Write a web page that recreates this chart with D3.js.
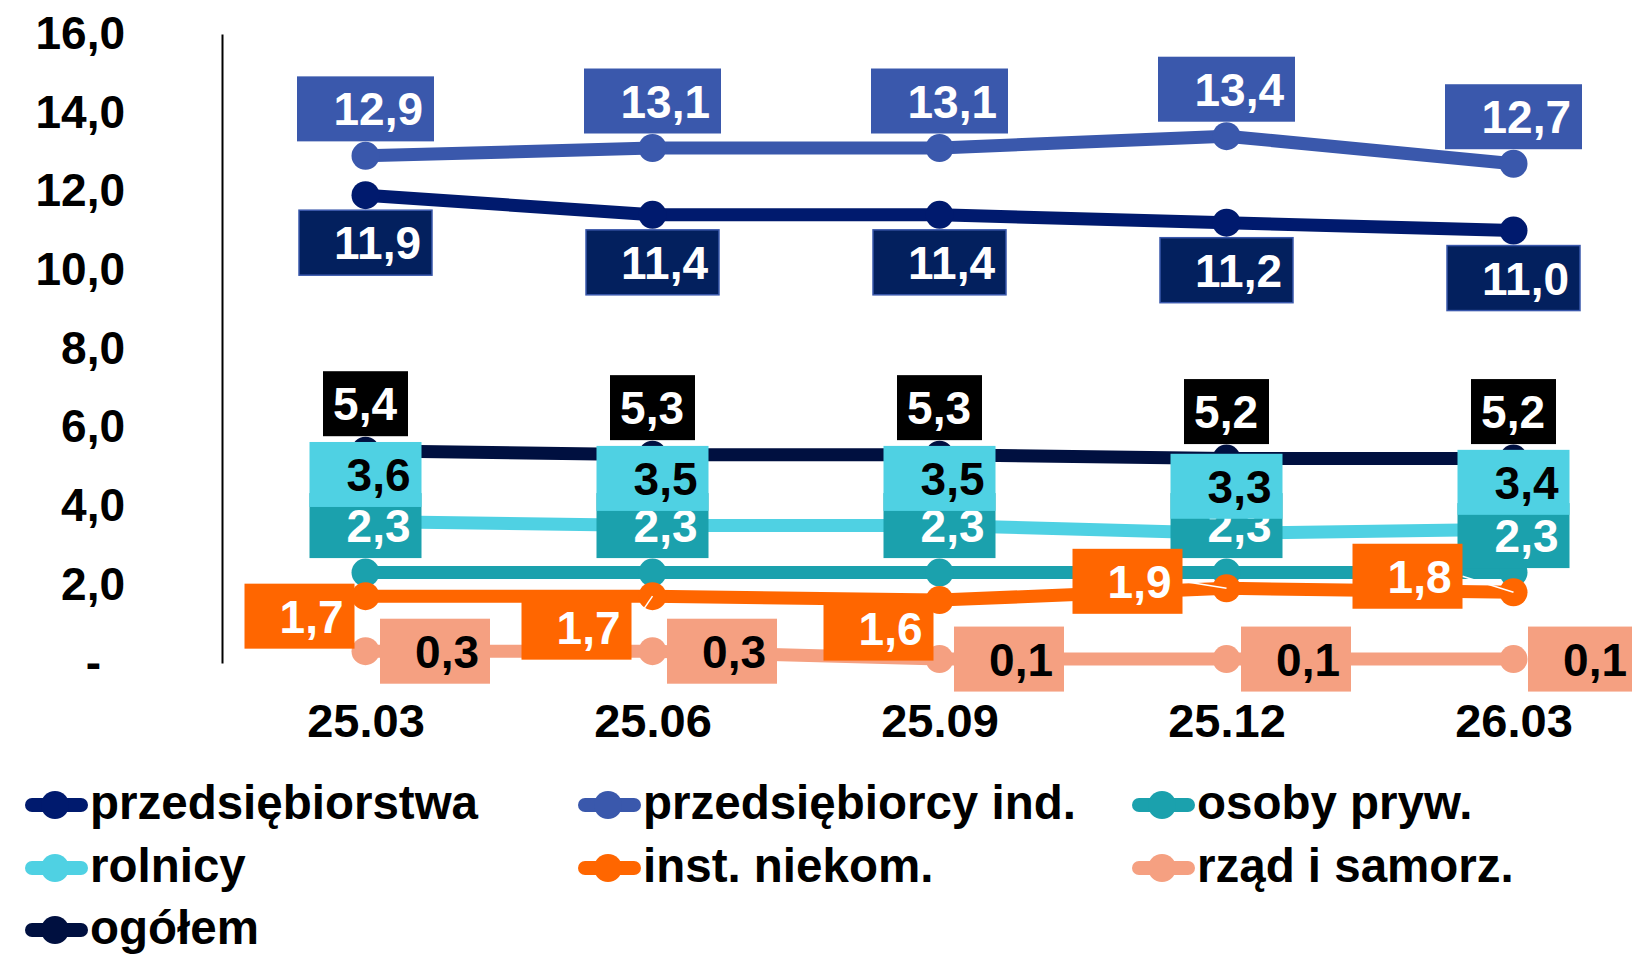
<!DOCTYPE html>
<html>
<head>
<meta charset="utf-8">
<title>Chart</title>
<script src="https://d3js.org/d3.v7.min.js"></script>
<style>
	html, body {margin: 0; background: #fff; overflow: hidden}
	text {font-family: "Liberation Sans", Arial, sans-serif; font-weight: bold}
</style>
</head>
<body>
<script>
	// data
	var categories = ["25.03", "25.06", "25.09", "25.12", "26.03"];
	var przedsiebiorstwa = [11.9, 11.4, 11.4, 11.2, 11.0];
	var przedsiebiorcyInd = [12.9, 13.1, 13.1, 13.4, 12.7];
	var osobyPryw = [2.3, 2.3, 2.3, 2.3, 2.3];
	var rolnicy = [3.6, 3.5, 3.5, 3.3, 3.4];
	var instNiekom = [1.7, 1.7, 1.6, 1.9, 1.8];
	var rzad = [0.3, 0.3, 0.1, 0.1, 0.1];
	var ogolem = [5.4, 5.3, 5.3, 5.2, 5.2];
	var yTicks = [0, 2, 4, 6, 8, 10, 12, 14, 16];

	// some labels were dragged by hand in the original, nudges in px
	var orangeLabelDx = [-11, -21, -6, -44, -51];
	var orangeLabelDy = [20, 31, 28, -7, -16];
	var tealLabelDy = [0, 0, 0, 0, 10];

	var width = 1632, height = 954;
	var fontSize = 46;

	var series = [
		{name: "przedsiębiorstwa", values: przedsiebiorstwa, color: "#001a6e", box: "#03205e", stroke: "#3a58ac", text: "#fff", pos: "below", w: 133},
		{name: "przedsiębiorcy ind.", values: przedsiebiorcyInd, color: "#3a58ac", box: "#3a58ac", text: "#fff", pos: "above", w: 137},
		{name: "osoby pryw.", values: osobyPryw, color: "#1ba1ad", box: "#1ba1ad", text: "#fff", pos: "above", w: 112, dy: tealLabelDy},
		{name: "rolnicy", values: rolnicy, color: "#4fd1e3", box: "#4fd1e3", text: "#000", pos: "above", w: 112},
		{name: "inst. niekom.", values: instNiekom, color: "#ff6600", box: "#ff6600", text: "#fff", pos: "left", w: 110},
		{name: "rząd i samorz.", values: rzad, color: "#f5a081", box: "#f5a081", text: "#000", pos: "right", w: 110},
		{name: "ogółem", values: ogolem, color: "#001040", box: "#000000", text: "#fff", pos: "above", w: 85}
	];

	var x = d3.scalePoint()
		.domain(categories)
		.range([222, 1657])
		.padding(0.5);

	var y = d3.scaleLinear()
		.domain([0, 16])
		.range([663, 34]);

	var svg = d3.select("body").append("svg")
		.attr("width", width)
		.attr("height", height);

	// y axis: plain line + labels
	var yAxis = d3.axisLeft(y)
		.tickValues(yTicks)
		.tickSize(0)
		.tickPadding(97)
		.tickFormat(function(d){
			return d === 0 ? "-" : d.toFixed(1).replace(".", ",");
		});

	var gy = svg.append("g")
		.attr("transform", "translate(222,0)")
		.call(yAxis);
	gy.select(".domain").attr("stroke", "#000").attr("stroke-width", 2);
	gy.selectAll("text")
		.attr("font-size", 46)
		.attr("fill", "#000")
		.attr("dx", function(d){ return d === 0 ? -24 : 0; });

	// x labels
	var xAxis = d3.axisBottom(x).tickSize(0).tickPadding(0);
	var gx = svg.append("g")
		.attr("transform", "translate(0,721)")
		.call(xAxis);
	gx.select(".domain").remove();
	gx.selectAll("text")
		.attr("font-size", 47)
		.attr("fill", "#000")
		.attr("dy", "0.35em");

	var line = d3.line()
		.x(function(d, i){ return x(categories[i]); })
		.y(function(d){ return y(d); });

	var lines = svg.append("g");
	series.forEach(function(s){
		var g = lines.append("g");
		g.append("path")
			.attr("d", line(s.values))
			.attr("fill", "none")
			.attr("stroke", s.color)
			.attr("stroke-width", 13)
			.attr("stroke-linejoin", "round");
		g.selectAll("circle")
			.data(s.values)
			.enter().append("circle")
			.attr("cx", function(d, i){ return x(categories[i]); })
			.attr("cy", function(d){ return y(d); })
			.attr("r", 14)
			.attr("fill", s.color);
	});

	// labels
	var boxH = 65;
	function boxPos(s, d, i){
		var px = x(categories[i]), py = y(d);
		var ny = s.dy ? s.dy[i] : 0;
		if(s.pos == "above") return [px - s.w / 2, py - 14.5 - boxH + ny];
		if(s.pos == "below") return [px - s.w / 2, py + 15];
		if(s.pos == "right") return [px + 14.5, py - boxH / 2];
		return [px + orangeLabelDx[i] - s.w, py + orangeLabelDy[i] - boxH / 2];
	}

	var labels = svg.append("g");
	series.forEach(function(s){
		var g = labels.append("g");
		s.values.forEach(function(d, i){
			var p = boxPos(s, d, i);
			// leader line only when the box was pulled away from its point
			if(s.pos == "left" && orangeLabelDx[i] < -15){
				g.append("line")
					.attr("x1", p[0] + s.w)
					.attr("y1", p[1] + boxH / 2)
					.attr("x2", x(categories[i]))
					.attr("y2", y(d))
					.attr("stroke", "#fff")
					.attr("stroke-width", 1.5);
			}
			g.append("rect")
				.attr("x", p[0])
				.attr("y", p[1])
				.attr("width", s.w)
				.attr("height", boxH)
				.attr("fill", s.box)
				.attr("stroke", s.stroke || "none")
				.attr("stroke-width", s.stroke ? 1.5 : 0);
			g.append("text")
				.attr("x", p[0] + s.w - 11)
				.attr("y", p[1] + boxH / 2)
				.attr("dy", "0.36em")
				.attr("text-anchor", "end")
				.attr("font-size", fontSize)
				.attr("fill", s.text)
				.text(d.toFixed(1).replace(".", ","));
		});
	});

	// legend
	var legendCols = [25, 578, 1132];
	var legendRows = [805, 868, 930];
	var legend = svg.append("g");
	series.forEach(function(s, i){
		var lx = legendCols[i % 3];
		var ly = legendRows[Math.floor(i / 3)];
		var g = legend.append("g").attr("transform", "translate(" + lx + "," + ly + ")");
		g.append("line")
			.attr("x1", 7).attr("x2", 56)
			.attr("y1", 0).attr("y2", 0)
			.attr("stroke", s.color)
			.attr("stroke-width", 14)
			.attr("stroke-linecap", "round");
		g.append("circle")
			.attr("cx", 30).attr("cy", 0)
			.attr("r", 14)
			.attr("fill", s.color);
		g.append("text")
			.attr("x", 65)
			.attr("y", 0)
			.attr("dy", "0.3em")
			.attr("font-size", 47.5)
			.attr("fill", "#000")
			.text(s.name);
	});
</script>
</body>
</html>
